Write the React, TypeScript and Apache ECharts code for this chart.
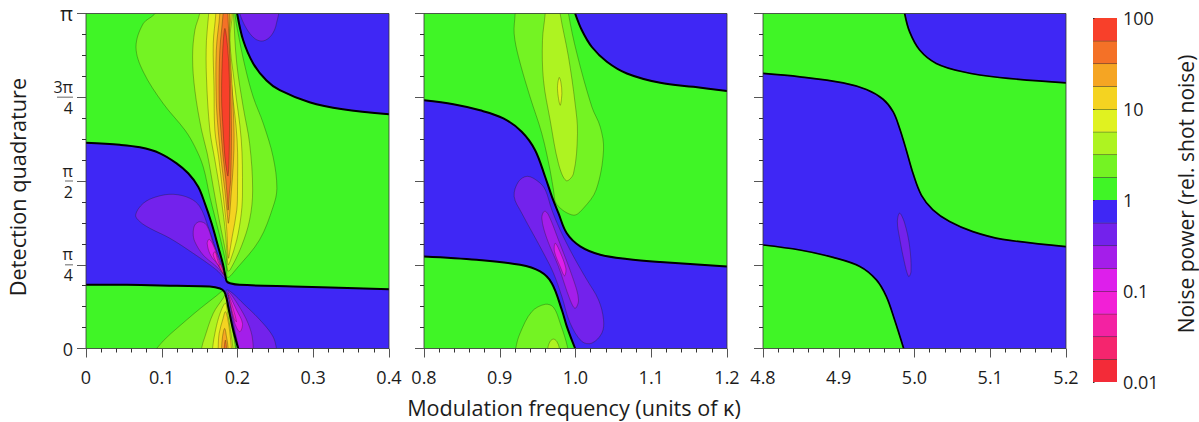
import React, { useEffect, useRef } from "react";
import * as echarts from "echarts";

type P = number[];

// Colour bands, low to high
const levels = [0.01, 0.0178, 0.0316, 0.0562, 0.1, 0.178, 0.316, 0.562, 1, 1.78, 3.16, 5.62, 10, 17.8, 31.6, 56.2, 100];
const bandColors = ["#F32B38", "#F5256E", "#F322A2", "#F220D6", "#DD1FEB", "#A41EEA", "#7322EC", "#3F27F5", "#40F526", "#74F323", "#AEF321", "#E0F220", "#F4D321", "#F5A523", "#F47127", "#F8402A"];
const GREEN = "#40F526", BLUE = 7, V1 = 6, V2 = 5, V3 = 4, V4 = 3, V5 = 2;
const A = 9, B = 10, C = 11, D = 12, E = 13, F = 14, G = 15;

// Panel 1: x in units of kappa, y in units of pi
const p1LineTop: P[] = [[0.1995, 1], [0.2075, 0.92], [0.2207, 0.851], [0.2383, 0.8], [0.2558, 0.771], [0.295, 0.735], [0.339, 0.714], [0.4, 0.699]];
const p1LineMid: P[] = [[0, 0.614], [0.0448, 0.608], [0.0712, 0.6005], [0.0976, 0.5827], [0.1196, 0.5528], [0.1349, 0.523], [0.1481, 0.483], [0.1569, 0.4334], [0.1658, 0.3737], [0.1745, 0.304], [0.181, 0.25], [0.1845, 0.21], [0.186, 0.2], [0.19, 0.195], [0.203, 0.19], [0.2734, 0.185], [0.4, 0.177]];
const p1LineLow: P[] = [[0, 0.19], [0.054, 0.19], [0.12, 0.187], [0.1635, 0.185], [0.177, 0.179], [0.1824, 0.17], [0.1855, 0.15], [0.1877, 0.125], [0.1943, 0.055], [0.2009, 0]];
const p1Blue1: P[] = [...p1LineTop, [0.44, 0.696], [0.44, 1.05], [0.192, 1.05]];
const p1Blue2: P[] = [...p1LineMid, [0.44, 0.175], [0.44, -0.05], [0.2027, -0.05], ...[...p1LineLow].reverse(), [-0.04, 0.19], [-0.04, 0.614]];
const p1Lobe: P[] = [[0.2031, 1.02], [0.2031, 1], [0.2119, 0.955], [0.2229, 0.925], [0.2338, 0.918], [0.2448, 0.935], [0.2514, 0.97], [0.2523, 1.02]];
const p1V1: P[] = [[0.0655, 0.3985], [0.0756, 0.4334], [0.0932, 0.4531], [0.1151, 0.4603], [0.1372, 0.4484], [0.1503, 0.4233], [0.1613, 0.3636], [0.1701, 0.3039], [0.1789, 0.2442], [0.1855, 0.2045], [0.1724, 0.2343], [0.1415, 0.2842], [0.1108, 0.329], [0.0844, 0.3588], [0.0712, 0.3785]];
const p1V2: P[] = [[0.1415, 0.3439], [0.1437, 0.3687], [0.1503, 0.3785], [0.1591, 0.3687], [0.1679, 0.314], [0.1767, 0.2642], [0.1849, 0.2143], [0.1724, 0.2442], [0.1547, 0.2791], [0.1437, 0.3188]];
const p1V3: P[] = [[0.16, 0.314], [0.1627, 0.326], [0.1679, 0.309], [0.1745, 0.2692], [0.1824, 0.2192], [0.1745, 0.2492], [0.1644, 0.2791]];
const p1V4: P[] = [[0.1679, 0.2791], [0.1705, 0.289], [0.1745, 0.2592], [0.182, 0.2243], [0.1745, 0.2492]];
const p1V5: P[] = [[0.1755, 0.25], [0.1775, 0.252], [0.182, 0.222], [0.178, 0.235]];
const p1W1: P[] = [[0.186, 0.175], [0.2119, 0.125], [0.2338, 0.075], [0.247, 0.035], [0.2514, 0], [0.2525, -0.03], [0.202, -0.03], [0.2018, 0], [0.1956, 0.055], [0.189, 0.125]];
const p1W2: P[] = [[0.1877, 0.17], [0.2009, 0.13], [0.214, 0.075], [0.22, 0.025], [0.2185, -0.03], [0.203, -0.03], [0.2018, 0], [0.1965, 0.055], [0.19, 0.135]];
const p1W3: P[] = [[0.1877, 0.165], [0.1987, 0.115], [0.2066, 0.075], [0.203, 0.05], [0.1965, 0.075], [0.1908, 0.13]];
const p1W4: P[] = [[0.188, 0.16], [0.1934, 0.125], [0.1987, 0.08], [0.1955, 0.09], [0.1905, 0.135]];
const p1A: P[] = [[0.091, 1.03], [0.091, 1], [0.0756, 0.97], [0.066, 0.9], [0.0756, 0.826], [0.102, 0.731], [0.1306, 0.652], [0.1437, 0.6024], [0.1547, 0.5427], [0.1635, 0.4531], [0.1701, 0.3934], [0.1789, 0.314], [0.1855, 0.2442], [0.187, 0.212], [0.199, 0.239], [0.229, 0.324], [0.247, 0.423], [0.252, 0.478], [0.247, 0.572], [0.234, 0.672], [0.2207, 0.751], [0.21, 0.841], [0.2, 0.95], [0.1965, 1], [0.1965, 1.03]];
const p1B: P[] = [[0.15, 1.03], [0.15, 1], [0.1437, 0.95], [0.1407, 0.87], [0.1437, 0.771], [0.1525, 0.652], [0.16, 0.5827], [0.1679, 0.483], [0.1767, 0.3737], [0.1846, 0.2842], [0.187, 0.232], [0.19, 0.234], [0.205, 0.304], [0.216, 0.384], [0.22, 0.473], [0.216, 0.612], [0.2075, 0.721], [0.199, 0.851], [0.1948, 1], [0.1948, 1.03]];
const p1C: P[] = [[0.162, 1.03], [0.162, 1], [0.159, 0.92], [0.159, 0.811], [0.1635, 0.652], [0.1701, 0.5628], [0.1767, 0.4731], [0.1833, 0.3636], [0.186, 0.29], [0.1875, 0.25], [0.19, 0.259], [0.199, 0.324], [0.205, 0.403], [0.2066, 0.473], [0.205, 0.622], [0.196, 0.791], [0.19, 0.92], [0.1934, 1], [0.1934, 1.03]];
const p1D: P[] = [[0.1714, 1.03], [0.1714, 1], [0.168, 0.91], [0.169, 0.781], [0.1701, 0.652], [0.175, 0.5727], [0.1802, 0.4731], [0.1855, 0.3636], [0.188, 0.27], [0.1905, 0.3], [0.193, 0.334], [0.199, 0.413], [0.2, 0.473], [0.1995, 0.622], [0.192, 0.791], [0.1885, 0.92], [0.1917, 1], [0.1917, 1.03]];
const p1E: P[] = [[0.1767, 1.03], [0.1767, 1], [0.172, 0.89], [0.172, 0.741], [0.1745, 0.652], [0.1789, 0.5528], [0.1833, 0.4731], [0.187, 0.39], [0.188, 0.374], [0.19, 0.41], [0.192, 0.473], [0.1945, 0.55], [0.1955, 0.64], [0.1925, 0.8], [0.1895, 0.92], [0.1895, 1], [0.1895, 1.03]];
const p1F: P[] = [[0.181, 1.03], [0.181, 1], [0.1767, 0.89], [0.1758, 0.741], [0.178, 0.652], [0.181, 0.5727], [0.1846, 0.503], [0.1868, 0.44], [0.1877, 0.4134], [0.1895, 0.47], [0.191, 0.503], [0.192, 0.642], [0.1908, 0.791], [0.189, 0.91], [0.1873, 1], [0.1873, 1.03]];
const p1G: P[] = [[0.1835, 0.955], [0.1805, 0.89], [0.179, 0.75], [0.181, 0.652], [0.1833, 0.5727], [0.1863, 0.5236], [0.1875, 0.515], [0.1888, 0.56], [0.1895, 0.7], [0.1885, 0.85]];
const p1LowA: P[] = [[0.0932, -0.03], [0.0932, 0], [0.1327, 0.085], [0.172, 0.157], [0.1824, 0.172], [0.186, 0.14], [0.1882, 0.11], [0.1925, 0.05], [0.1978, 0], [0.1985, -0.03]];
const p1LowB: P[] = [[0.1525, -0.03], [0.1525, 0], [0.157, 0.035], [0.168, 0.105], [0.181, 0.15], [0.184, 0.16], [0.188, 0.115], [0.1934, 0.055], [0.1974, 0], [0.1974, -0.03]];
const p1LowC: P[] = [[0.167, -0.03], [0.167, 0], [0.171, 0.055], [0.177, 0.105], [0.184, 0.135], [0.187, 0.105], [0.191, 0.05], [0.194, 0], [0.194, -0.03]];
const p1LowD: P[] = [[0.1745, -0.03], [0.1745, 0], [0.1758, 0.045], [0.181, 0.09], [0.184, 0.11], [0.187, 0.09], [0.19, 0.045], [0.192, 0], [0.192, -0.03]];
const p1LowE: P[] = [[0.179, -0.03], [0.179, 0], [0.1802, 0.035], [0.183, 0.06], [0.1855, 0.035], [0.1877, 0], [0.1877, -0.03]];
const p1LowF: P[] = [[0.1824, -0.03], [0.1824, 0], [0.184, 0.025], [0.1855, 0], [0.1855, -0.03]];
const p1Bands: [P[], number][] = [[p1Blue1, BLUE], [p1Blue2, BLUE], [p1Lobe, V1], [p1V1, V1], [p1V2, V2], [p1V3, V3], [p1V4, V4], [p1V5, V5], [p1W1, V1], [p1W2, V2], [p1W3, V3], [p1W4, V4], [p1A, A], [p1B, B], [p1C, C], [p1D, D], [p1E, E], [p1F, F], [p1G, G], [p1LowA, A], [p1LowB, B], [p1LowC, C], [p1LowD, D], [p1LowE, E], [p1LowF, F]];
const p1Lines = [p1LineTop, p1LineMid, p1LineLow];

// Panel 2
const p2LineTop: P[] = [[0.9995, 1], [1.0084, 0.95], [1.0216, 0.9], [1.0414, 0.856], [1.0678, 0.821], [1.1119, 0.793], [1.1559, 0.781], [1.2, 0.769]];
const p2LineMid: P[] = [[0.8, 0.741], [0.8388, 0.729], [0.874, 0.711], [0.9048, 0.687], [0.929, 0.647], [0.9467, 0.592], [0.96, 0.512], [0.9691, 0.452], [0.9775, 0.404], [0.9885, 0.344], [1.0062, 0.305], [1.0326, 0.28], [1.0678, 0.267], [1.1119, 0.258], [1.2, 0.245]];
const p2LineLow: P[] = [[0.8, 0.275], [0.8696, 0.265], [0.9269, 0.25], [0.9533, 0.23], [0.9687, 0.195], [0.982, 0.115], [0.9885, 0.066], [0.9995, 0]];
const p2Blue1: P[] = [...p2LineTop, [1.24, 0.766], [1.24, 1.05], [0.991, 1.05]];
const p2Blue2: P[] = [...p2LineMid, [1.24, 0.242], [1.24, -0.05], [1.008, -0.05], ...[...p2LineLow].reverse(), [0.76, 0.278], [0.76, 0.744]];
const p2V1: P[] = [[0.9365, 0.514], [0.9247, 0.498], [0.919, 0.454], [0.9291, 0.404], [0.9423, 0.349], [0.9577, 0.285], [0.9709, 0.225], [0.982, 0.155], [0.9929, 0.076], [1.0084, 0.021], [1.0216, 0.016], [1.0348, 0.046], [1.037, 0.086], [1.0304, 0.145], [1.015, 0.205], [0.9973, 0.275], [0.9797, 0.354], [0.9687, 0.414], [0.96, 0.474], [0.951, 0.498]];
const p2V2: P[] = [[0.959, 0.41], [0.9555, 0.389], [0.9621, 0.329], [0.9775, 0.245], [0.9929, 0.145], [0.9995, 0.12], [1.004, 0.145], [0.9973, 0.205], [0.9775, 0.324], [0.9643, 0.399]];
const p2V3: P[] = [[0.9731, 0.314], [0.9722, 0.29], [0.9797, 0.245], [0.9855, 0.217], [0.9872, 0.24], [0.9775, 0.299]];
const p2A: P[] = [[0.9203, 1.03], [0.9203, 1], [0.919, 0.94], [0.9247, 0.871], [0.94, 0.751], [0.9555, 0.642], [0.9665, 0.532], [0.9709, 0.474], [0.9753, 0.43], [0.9973, 0.398], [1.0106, 0.419], [1.0273, 0.474], [1.037, 0.592], [1.0326, 0.662], [1.0216, 0.721], [1.0018, 0.881], [0.9907, 1], [0.9907, 1.03]];
const p2B: P[] = [[0.96, 1.03], [0.96, 1], [0.9564, 0.92], [0.9577, 0.801], [0.9665, 0.682], [0.9775, 0.552], [0.9877, 0.501], [0.9973, 0.522], [1.0026, 0.642], [0.9995, 0.731], [0.9907, 0.871], [0.9797, 1], [0.9797, 1.03]];
const p2C: P[] = [[0.9784, 0.809], [0.9762, 0.776], [0.9797, 0.726], [0.982, 0.761], [0.9806, 0.796]];
const p2LowA: P[] = [[0.9211, -0.03], [0.9211, 0], [0.9269, 0.046], [0.9423, 0.11], [0.96, 0.132], [0.9709, 0.123], [0.9797, 0.076], [0.9899, 0], [0.9899, -0.03]];
const p2LowB: P[] = [[0.9634, -0.03], [0.9634, 0], [0.9665, 0.021], [0.9709, 0.028], [0.9753, 0.021], [0.9788, 0], [0.9788, -0.03]];
const p2Bands: [P[], number][] = [[p2Blue1, BLUE], [p2Blue2, BLUE], [p2V1, V1], [p2V2, V2], [p2V3, V3], [p2A, A], [p2B, B], [p2C, C], [p2LowA, A], [p2LowB, B]];
const p2Lines = [p2LineTop, p2LineMid, p2LineLow];

// Panel 3
const p3LineTop: P[] = [[4.987, 1], [4.9936, 0.945], [5.0068, 0.891], [5.0287, 0.851], [5.0638, 0.826], [5.1121, 0.809], [5.2, 0.793]];
const p3LineMid: P[] = [[4.8, 0.821], [4.8487, 0.811], [4.9058, 0.793], [4.9365, 0.773], [4.9585, 0.744], [4.9717, 0.707], [4.9804, 0.657], [4.9892, 0.592], [4.998, 0.523], [5.009, 0.458], [5.0243, 0.414], [5.0463, 0.379], [5.077, 0.349], [5.1165, 0.326], [5.2, 0.304]];
const p3LineLow: P[] = [[4.8, 0.309], [4.8487, 0.294], [4.8926, 0.272], [4.9278, 0.245], [4.9497, 0.205], [4.9629, 0.155], [4.9738, 0.085], [4.9857, 0]];
const p3Blue1: P[] = [...p3LineTop, [5.24, 0.79], [5.24, 1.05], [4.98, 1.05]];
const p3Blue2: P[] = [...p3LineMid, [5.24, 0.3], [5.24, -0.05], [4.994, -0.05], ...[...p3LineLow].reverse(), [4.76, 0.312], [4.76, 0.824]];
const p3V1: P[] = [[4.9804, 0.404], [4.9774, 0.379], [4.9804, 0.329], [4.987, 0.254], [4.9923, 0.215], [4.9954, 0.23], [4.9936, 0.304], [4.987, 0.374]];
const p3Bands: [P[], number][] = [[p3Blue1, BLUE], [p3Blue2, BLUE], [p3V1, V1]];
const p3Lines = [p3LineTop, p3LineMid, p3LineLow];

const panelRanges = [[0, 0.4], [0.8, 1.2], [4.8, 5.2]];
const panelLefts = [86, 424, 763];
const xTitle = "Modulation frequency (units of κ)";
const yTitle = "Detection quadrature";
const barTitle = "Noise power (rel. shot noise)";
const yTickLabels: Record<string, string> = {
  "0": "{n|0}",
  "0.25": "{f|π}\n{l| }\n{f|4}",
  "0.5": "{f|π}\n{l| }\n{f|2}",
  "0.75": "{f|3π}\n{l3| }\n{f|4}",
  "1": "{p|π}",
};

const FONT = "Open Sans";
const INK = "#1c1c1c";
const TOP = 13.5, H = 335, W = 303;

function buildOption() {
  const grids: any[] = [], xAxes: any[] = [], yAxes: any[] = [], series: any[] = [];
  const sets: [[P[], number][], P[][]][] = [[p1Bands, p1Lines], [p2Bands, p2Lines], [p3Bands, p3Lines]];
  sets.forEach(([bands, lines], i) => {
    const [x0, x1] = panelRanges[i];
    grids.push({ left: panelLefts[i], top: TOP, width: W, height: H, show: true, backgroundColor: GREEN, borderWidth: 0 });
    xAxes.push({
      gridIndex: i, type: "value", min: x0, max: x1, interval: 0.1, z: 10,
      splitLine: { show: false }, axisLine: { show: false },
      axisTick: { show: true, length: 9, lineStyle: { color: "#555", width: 1 } },
      minorTick: { show: true, splitNumber: 5, length: 4, lineStyle: { color: "#333", width: 1 } },
      axisLabel: {
        margin: 19, fontSize: 18, color: INK, fontFamily: FONT,
        formatter: (v: number) => (v === 0 ? "0" : v.toFixed(1)),
      },
    });
    yAxes.push({
      gridIndex: i, type: "value", min: 0, max: 1, interval: 0.25, z: 10,
      splitLine: { show: false }, axisLine: { show: false },
      axisTick: { show: true, length: 9, lineStyle: { color: "#555", width: 1 } },
      minorTick: { show: true, splitNumber: 4, length: 4, lineStyle: { color: "#333", width: 1 } },
      axisLabel: {
        show: i === 0, margin: 13, color: INK, fontFamily: FONT,
        formatter: (v: number) => yTickLabels[String(v)] ?? "",
        rich: {
          n: { fontSize: 18, fontFamily: FONT, color: INK },
          p: { fontSize: 20, fontFamily: FONT, color: INK },
          f: { fontSize: 16, fontFamily: FONT, color: INK, lineHeight: 18, align: "right" },
          l: { width: 8, height: 1.5, lineHeight: 3, fontSize: 1, backgroundColor: "#999", align: "right" },
          l3: { width: 16, height: 1.5, lineHeight: 3, fontSize: 1, backgroundColor: "#999", align: "right" },
        },
      },
    });
    series.push({
      type: "custom", coordinateSystem: "cartesian2d", xAxisIndex: i, yAxisIndex: i, clip: true, silent: true, z: 2,
      data: bands.map(() => [x0, 0]),
      renderItem: (params: any, api: any) => {
        const [pts, c] = bands[params.dataIndex];
        return {
          type: "polygon",
          shape: { points: pts.map((p) => api.coord(p)), smooth: 0.35 },
          style: { fill: bandColors[c], stroke: "rgba(20,30,0,0.6)", lineWidth: 0.5 },
        };
      },
    });
    series.push({
      type: "custom", coordinateSystem: "cartesian2d", xAxisIndex: i, yAxisIndex: i, clip: true, silent: true, z: 3,
      data: lines.map(() => [x0, 0]),
      renderItem: (params: any, api: any) => ({
        type: "polyline",
        shape: { points: lines[params.dataIndex].map((p) => api.coord(p)), smooth: 0.35 },
        style: { fill: "none", stroke: "#000", lineWidth: i === 2 ? 1.7 : 2 },
      }),
    });
    series.push({
      type: "custom", coordinateSystem: "cartesian2d", xAxisIndex: i, yAxisIndex: i, clip: false, silent: true, z: 4,
      data: [[x0, 0]],
      renderItem: (_: any, api: any) => {
        const a = api.coord([x0, 1]), b = api.coord([x1, 0]);
        return {
          type: "rect",
          shape: { x: a[0], y: a[1], width: b[0] - a[0], height: b[1] - a[1] },
          style: { fill: "none", stroke: "#333", lineWidth: 0.8 },
        };
      },
    });
  });

  // Colour bar
  grids.push({ left: 1093, top: 18, width: 24, height: 364 });
  xAxes.push({ gridIndex: 3, type: "value", min: 0, max: 1, show: false });
  yAxes.push({
    gridIndex: 3, type: "log", logBase: 10, min: 0.01, max: 100, position: "right", z: 10,
    splitLine: { show: false }, axisLine: { show: false }, minorTick: { show: false },
    axisTick: { show: true, length: 1.5, lineStyle: { color: "#333" } },
    axisLabel: {
      margin: 6, fontSize: 18, color: INK, fontFamily: FONT,
      formatter: (v: number) => String(Number(v.toPrecision(1))),
    },
  });
  series.push({
    type: "custom", coordinateSystem: "cartesian2d", xAxisIndex: 3, yAxisIndex: 3, silent: true, z: 2,
    data: levels.slice(1).map((v) => [0, v]),
    renderItem: (params: any, api: any) => {
      const k = params.dataIndex;
      const a = api.coord([0, levels[k + 1]]), b = api.coord([1, levels[k]]);
      return {
        type: "group",
        children: [
          { type: "rect", shape: { x: a[0], y: a[1], width: b[0] - a[0], height: b[1] - a[1] }, style: { fill: bandColors[k] } },
          ...(k < 15 && k !== 7 ? [{ type: "line", shape: { x1: a[0], y1: a[1], x2: b[0], y2: a[1] }, style: { stroke: "#222", lineWidth: 0.9 } }] : []),
        ],
      };
    },
  });

  const titleStyle = { fontFamily: FONT, fill: INK, align: "center", verticalAlign: "middle" };
  return {
    animation: false,
    grid: grids, xAxis: xAxes, yAxis: yAxes, series,
    graphic: [
      { type: "text", x: 574, y: 407, style: { ...titleStyle, text: xTitle, fontSize: 21.6 } },
      { type: "text", x: 17, y: 187, rotation: Math.PI / 2, style: { ...titleStyle, text: yTitle, fontSize: 21.7 } },
      { type: "text", x: 1186, y: 194, rotation: Math.PI / 2, style: { ...titleStyle, text: barTitle, fontSize: 21 } },
    ],
  };
}

export default function App() {
  const ref = useRef<HTMLDivElement>(null);
  useEffect(() => {
    const chart = echarts.init(ref.current!, undefined, { renderer: "svg" });
    chart.setOption(buildOption());
    return () => chart.dispose();
  }, []);
  return <div ref={ref} style={{ position: "absolute", left: 0, top: 0, width: 1199, height: 422, background: "#fff" }} />;
}
